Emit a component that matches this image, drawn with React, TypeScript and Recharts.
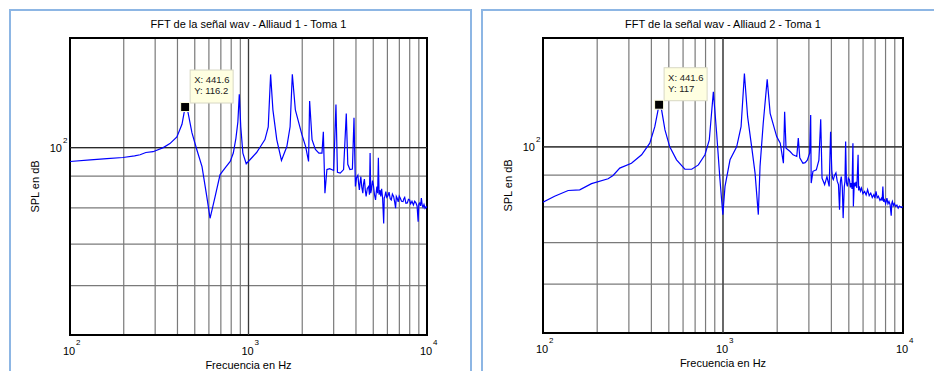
import React from "react";
import {
  LineChart,
  Line,
  XAxis,
  YAxis,
  CartesianGrid,
  ReferenceArea,
  ReferenceDot,
  ReferenceLine,
} from "recharts";

// Alliaud 1 - Toma 1 (frequency in Hz, SPL)
const freq1 = [
  100, 130, 161, 198, 230, 247, 266, 292, 333, 363, 397, 424, 441.6, 458, 482, 513, 549, 584, 609, 650,
  693, 740, 790, 822, 850, 872, 888, 905, 930, 971, 1050, 1110, 1170, 1236, 1290, 1330, 1370, 1440, 1530, 1640,
  1710, 1760, 1830, 1990, 2090, 2170, 2200, 2270, 2370, 2480, 2580, 2626, 2680, 2750, 2850, 3000, 3090, 3150, 3265, 3410,
  3530, 3600, 3700, 3820, 3900, 3970, 4030, 4100, 4140, 4180, 4220, 4260, 4310, 4370, 4410, 4460, 4510, 4560, 4630, 4710,
  4760, 4800, 4840, 4880, 4950, 5010, 5080, 5150, 5200, 5240, 5290, 5340, 5390, 5450, 5510, 5570, 5640, 5720, 5760, 5810,
  5880, 5950, 6050, 6130, 6220, 6310, 6400, 6500, 6580, 6670, 6730, 6800, 6900, 6990, 7080, 7200, 7340, 7420, 7500, 7620,
  7760, 7870, 7990, 8100, 8240, 8390, 8530, 8670, 8800, 8920, 9000, 9100, 9200, 9300, 9400, 9500, 9620, 9750, 9900, 10000,
];
const spl1 = [
  95.0, 95.6, 96.0, 96.4, 97.0, 97.4, 98.2, 98.5, 100.0, 101.5, 104.0, 109.0, 116.2, 114.0, 105.7, 99.3, 93.2, 83.4, 77.0, 83.4,
  90.5, 92.8, 95.0, 98.0, 103.5, 110.0, 121.8, 108.0, 98.0, 94.2, 96.5, 98.2, 100.5, 103.0, 108.0, 131.1, 115.0, 103.0, 95.4, 100.4,
  108.0, 131.2, 115.0, 105.0, 100.4, 95.0, 118.8, 103.0, 99.3, 98.0, 98.0, 106.0, 84.5, 92.2, 92.5, 91.9, 117.3, 91.3, 91.0, 92.2,
  113.4, 94.0, 92.2, 92.4, 111.7, 86.6, 89.5, 90.3, 87.5, 85.5, 88.0, 89.8, 86.5, 84.5, 87.5, 89.0, 85.5, 83.5, 86.0, 86.6,
  84.0, 98.0, 84.5, 85.5, 88.5, 87.0, 84.0, 82.4, 85.0, 86.6, 84.5, 96.3, 84.0, 85.5, 83.5, 85.9, 83.0, 75.5, 83.0, 83.5,
  85.0, 83.2, 83.7, 84.8, 82.8, 82.4, 84.2, 83.5, 82.0, 79.9, 83.5, 83.0, 81.8, 83.6, 83.0, 82.0, 81.9, 82.8, 83.2, 81.4,
  81.5, 82.6, 82.4, 81.2, 82.0, 80.9, 82.0, 81.5, 80.6, 76.0, 81.2, 81.5, 80.6, 83.0, 80.8, 80.2, 81.0, 79.9, 80.4, 80.0,
];

// Alliaud 2 - Toma 1
const freq2 = [
  100, 116, 138, 160, 186, 230, 245, 267, 310, 353, 392, 418, 441.6, 456, 476, 506, 552, 614, 670, 730,
  794, 839, 884, 922, 962, 998, 1026, 1094, 1191, 1260, 1315, 1370, 1443, 1507, 1571, 1606, 1673, 1760, 1828, 1987,
  2080, 2166, 2200, 2240, 2359, 2450, 2570, 2620, 2670, 2780, 2860, 2940, 3030, 3070, 3090, 3160, 3300, 3410, 3490, 3550,
  3670, 3780, 3890, 3960, 4020, 4060, 4100, 4170, 4240, 4310, 4380, 4440, 4490, 4540, 4600, 4650, 4720, 4760, 4800, 4850,
  4910, 4970, 5040, 5100, 5150, 5210, 5270, 5300, 5360, 5420, 5480, 5540, 5630, 5670, 5720, 5800, 5880, 5990, 6120, 6240,
  6360, 6490, 6620, 6750, 6890, 6980, 7080, 7190, 7300, 7450, 7590, 7660, 7730, 7800, 7890, 8010, 8140, 8250, 8360, 8480,
  8600, 8660, 8730, 8840, 8950, 9100, 9250, 9400, 9560, 9780, 10000,
];
const spl2 = [
  81.4, 83.2, 85.0, 85.2, 87.2, 88.8, 89.9, 92.4, 94.1, 97.1, 101.4, 107.8, 117.0, 114.7, 106.5, 100.0, 95.3, 92.0, 92.0, 93.5,
  97.1, 102.6, 122.8, 105.2, 88.5, 77.7, 86.3, 95.3, 100.0, 107.8, 131.4, 111.9, 100.0, 90.7, 77.7, 93.0, 109.2, 128.6, 113.3, 103.9,
  101.4, 94.1, 114.0, 99.5, 98.3, 97.1, 96.5, 103.3, 96.0, 94.1, 94.3, 95.2, 97.7, 112.6, 87.4, 91.3, 91.8, 95.2, 110.8, 89.0,
  86.9, 89.5, 86.3, 105.8, 91.8, 89.0, 88.5, 90.0, 90.8, 88.0, 86.9, 79.1, 88.0, 89.5, 86.0, 76.7, 86.3, 88.0, 102.0, 87.5,
  86.3, 89.0, 88.5, 86.0, 87.4, 85.5, 101.4, 80.1, 87.5, 86.3, 87.8, 85.8, 97.1, 85.0, 86.3, 84.8, 85.8, 84.0, 84.7, 83.6,
  85.3, 83.4, 84.2, 82.8, 83.7, 82.6, 84.7, 82.7, 83.2, 81.9, 82.6, 81.8, 86.3, 81.5, 82.1, 81.0, 82.6, 80.9, 81.6, 80.6,
  77.4, 81.0, 81.6, 80.4, 81.0, 80.1, 80.5, 79.6, 80.2, 79.8, 80.1,
];

const xTicks = [100, 200, 300, 400, 500, 600, 700, 800, 900, 1000, 2000, 3000, 4000, 5000, 6000, 7000, 8000, 9000, 10000];
const yTicks = [60, 70, 80, 90, 100];

const FONT = "'Liberation Sans', Arial, sans-serif";

const XTick = ({ x, y, payload }: any) => {
  const exp = Math.log10(payload.value);
  if (Math.abs(exp - Math.round(exp)) > 1e-6) return <g />;
  return (
    <g fontFamily={FONT} fill="#000">
      <text x={x - 1} y={y + 20} textAnchor="middle" fontSize={11}>10</text>
      <text x={x + 6} y={y + 10} fontSize={8}>{Math.round(exp)}</text>
    </g>
  );
};

const YTick = ({ x, y, payload }: any) => {
  if (payload.value !== 100) return <g />;
  return (
    <g fontFamily={FONT} fill="#000">
      <text x={x - 8} y={y + 4} textAnchor="end" fontSize={11}>10</text>
      <text x={x - 7} y={y - 5} fontSize={8}>2</text>
    </g>
  );
};

const DataTip = ({ cx, cy, xText, yText }: any) => (
  <g fontFamily={FONT}>
    <rect x={cx + 5} y={cy - 37} width={43} height={33} fill="#ffffe1" stroke="#d8d8c4" />
    <text x={cx + 9} y={cy - 24} fontSize={9.5} fill="#222">{xText}</text>
    <text x={cx + 9} y={cy - 13} fontSize={9.5} fill="#222">{yText}</text>
    <rect x={cx - 4.5} y={cy - 4.5} width={9} height={9} fill="#000" stroke="#ffffe1" strokeWidth={1} />
  </g>
);

interface PanelProps {
  freqs: number[];
  spl: number[];
  tipY: number;
  width: number;
  margin: { top: number; right: number; bottom: number; left: number };
}

function FftChart({ freqs, spl, tipY, width, margin }: PanelProps) {
  const data = freqs.map((f, i) => ({ f, v: spl[i] }));
  return (
    <LineChart width={width} height={371} data={data} margin={margin}>
      <CartesianGrid stroke="#7a7a7a" strokeWidth={1.2} />
      <ReferenceLine x={1000} stroke="#3a3a3a" strokeWidth={1.2} />
      <ReferenceLine y={100} stroke="#2a2a2a" strokeWidth={1.2} />
      <XAxis
        dataKey="f"
        type="number"
        scale="log"
        domain={[100, 10000]}
        allowDataOverflow
        ticks={xTicks}
        interval={0}
        tick={<XTick />}
        tickLine={false}
        axisLine={false}
        tickSize={0}
        tickMargin={0}
        height={26}
        label={{ value: "Frecuencia en Hz", position: "bottom", offset: 0, fontSize: 11, fill: "#000", fontFamily: FONT }}
      />
      <YAxis
        type="number"
        scale="log"
        domain={[50, 150]}
        allowDataOverflow
        ticks={yTicks}
        interval={0}
        tick={<YTick />}
        tickLine={false}
        axisLine={false}
        tickSize={0}
        tickMargin={0}
        width={40}
        label={{
          value: "SPL en dB",
          angle: -90,
          position: "insideLeft",
          offset: 5,
          style: { textAnchor: "middle", fontSize: 11, fill: "#000", fontFamily: FONT },
        }}
      />
      <Line
        type="linear"
        dataKey="v"
        stroke="#0000ff"
        strokeWidth={1.2}
        dot={false}
        isAnimationActive={false}
      />
      <ReferenceArea x1={100} x2={10000} y1={50} y2={150} fill="none" stroke="#000" strokeWidth={2} />
      <ReferenceDot
        x={441.6}
        y={tipY}
        r={4}
        shape={(p: any) => <DataTip cx={p.cx} cy={p.cy} xText="X: 441.6" yText={`Y: ${tipY}`} />}
      />
    </LineChart>
  );
}

export default function App() {
  const titleStyle: React.CSSProperties = {
    position: "absolute",
    top: 17,
    fontFamily: FONT,
    fontSize: 11,
    lineHeight: "14px",
    textAlign: "center",
    color: "#000",
  };
  return (
    <div style={{ position: "absolute", left: 0, top: 0, width: 934, height: 371, overflow: "hidden", background: "#fff" }}>
      <div style={{ position: "absolute", left: 9, top: 9, width: 463, height: 420, border: "2px solid #8db6e4", boxSizing: "border-box" }} />
      <div style={{ position: "absolute", left: 481, top: 9, width: 470, height: 420, border: "2px solid #8db6e4", boxSizing: "border-box" }} />
      <div style={{ ...titleStyle, left: 70, width: 357 }}>FFT de la señal wav - Alliaud 1 - Toma 1</div>
      <div style={{ ...titleStyle, left: 543, width: 360 }}>FFT de la señal wav - Alliaud 2 - Toma 1</div>
      <div style={{ position: "absolute", left: 0, top: 0 }}>
        <FftChart freqs={freq1} spl={spl1} tipY={116.2} width={476} margin={{ top: 38, right: 49, bottom: 10, left: 30 }} />
      </div>
      <div style={{ position: "absolute", left: 476, top: 0 }}>
        <FftChart freqs={freq2} spl={spl2} tipY={117} width={458} margin={{ top: 38, right: 31, bottom: 12, left: 27 }} />
      </div>
    </div>
  );
}
